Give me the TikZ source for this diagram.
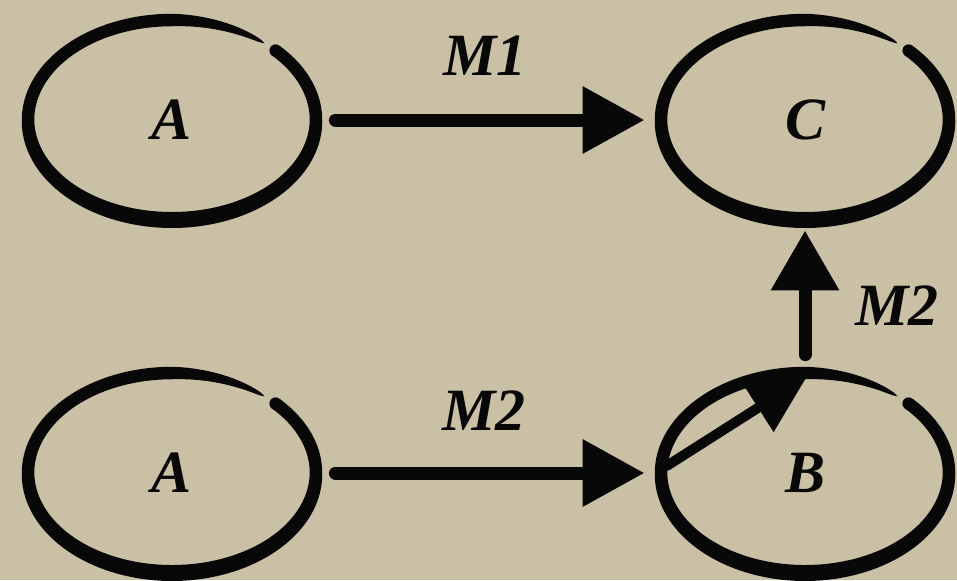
\documentclass[tikz,border=0pt]{standalone}
\usepackage{fontspec}
\setmainfont{Liberation Serif}
\usetikzlibrary{arrows.meta,shapes.geometric}
\definecolor{paper}{RGB}{201,192,165}
\definecolor{ink}{RGB}{8,8,8}
% brush-stroke ring around a node: open at the upper right, heavier at the
% bottom and tapering away at one end
\newcommand\brushring[1]{%
  \begin{scope}[shift={(#1.center)}]
    \fill[ink] plot[domain=-310:44,samples=160,smooth]
        ({(144+bw(\x)/2)*cos(\x)},{-(100+bw(\x)/2)*sin(\x)})
      -- plot[domain=44:-310,samples=160,smooth]
        ({(144-bw(\x)/2)*cos(\x)},{-(100-bw(\x)/2)*sin(\x)}) -- cycle;
    \fill[ink] ({144*cos(44)},{-100*sin(44)}) circle[radius=6.2];
  \end{scope}}
\begin{document}
\begin{tikzpicture}[x=0.5pt,y=-0.5pt,
  declare function={bw(\t)=(12.5+3.5*max(0,-sin(\t)))*sqrt(min(1,max(0,(\t+310)/40)));},
  ring/.style={ellipse,minimum width=150pt,minimum height=106pt,inner sep=0pt,
    font=\bfseries\itshape\fontsize{30}{36}\selectfont,text=ink},
  lbl/.style={anchor=base,inner sep=0pt,
    font=\bfseries\itshape\fontsize{30}{36}\selectfont,text=ink},
  conn/.style={draw=ink,line width=6.5pt,line cap=round,
    -{Triangle[length=31pt,width=32pt]}}]
  \fill[paper] (0,0) rectangle (957,580);
  \useasboundingbox (0,0) rectangle (957,580);

  % states
  \node[ring] (A1) at (172,120) {A};
  \node[ring] (C)  at (805,120) {C};
  \node[ring] (A2) at (172,473) {A};
  \node[ring] (B)  at (805,473) {B};
  \brushring{A1}
  \brushring{C}
  \brushring{A2}
  \brushring{B}

  % transitions
  \draw[conn,shorten <=6.5pt,shorten >=5pt] (A1.east) -- (C.west);
  \draw[conn,shorten <=6.5pt,shorten >=5pt] (A2.east) -- (B.west);
  \draw[conn,shorten <=6pt,shorten >=2pt,-{Triangle[length=30pt,width=32.5pt]}]
    (B.north) -- (C.south);
  \draw[conn,line width=5pt,-{Triangle[length=29pt,width=27.5pt]}]
    ([xshift=6pt,yshift=3.5pt]B.west) -- ([xshift=1pt,yshift=-5pt]B.north);

  % transition labels
  \node[lbl] (m1)  at (485,75)  {M1};
  \node[lbl] (m2a) at (484,430) {M2};
  \node[lbl] (m2b) at (897,325) {M2};
\end{tikzpicture}
\end{document}
